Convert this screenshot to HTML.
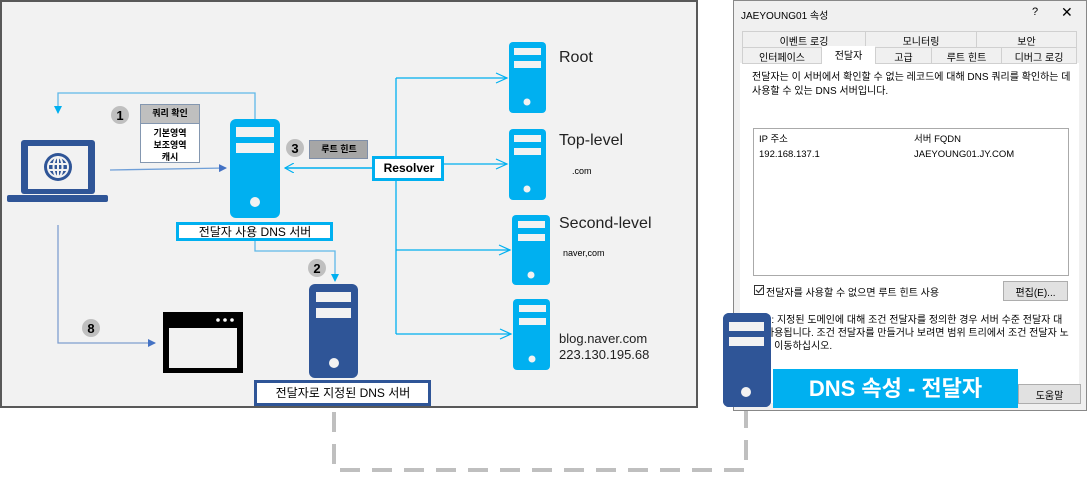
<!DOCTYPE html>
<html><head><meta charset="utf-8"><style>
body{margin:0;width:1087px;height:477px;background:#fff;position:relative;overflow:hidden;font-family:"Liberation Sans","Noto Sans CJK KR",sans-serif}
.a{position:absolute}
.t{position:absolute;white-space:nowrap}
</style></head><body>
<svg class="a" style="left:0;top:0" width="1087" height="477">
<defs>
<marker id="fb" markerWidth="8" markerHeight="8" refX="7" refY="4" orient="auto" markerUnits="userSpaceOnUse"><path d="M0,0 L8,4 L0,8z" fill="#4472c4"/></marker>
<marker id="lb" markerWidth="8" markerHeight="8" refX="7" refY="4" orient="auto" markerUnits="userSpaceOnUse"><path d="M0,0 L8,4 L0,8z" fill="#00b0f0"/></marker>
<marker id="ob" markerWidth="10" markerHeight="10" refX="9" refY="5" orient="auto" markerUnits="userSpaceOnUse"><path d="M0,0 L9,5 L0,10" fill="none" stroke="#00b0f0" stroke-width="1.2"/></marker>
</defs>
<!-- left panel -->
<rect x="1" y="1" width="696" height="406" fill="#f2f2f2" stroke="#595959" stroke-width="2"/>
<!-- dashed -->
<path d="M334,412 V470 H746 V410" fill="none" stroke="#bfbfbf" stroke-width="4" stroke-dasharray="20,12"/>
<!-- feedback line -->
<path d="M255,119 V93 H58 V113" fill="none" stroke="#5fb8e8" stroke-width="1.3" marker-end="url(#lb)"/>
<!-- laptop -> server -->
<line x1="110" y1="170" x2="226" y2="168" stroke="#6f9fd8" stroke-width="1.3" marker-end="url(#fb)"/>
<!-- laptop -> browser -->
<path d="M58,225 V343 H155" fill="none" stroke="#7f9fd0" stroke-width="1.3" marker-end="url(#fb)"/>
<!-- server1 -> server2 -->
<path d="M255,240 V251 H335 V281" fill="none" stroke="#5fb8e8" stroke-width="1.3" marker-end="url(#lb)"/>
<!-- resolver -> server1 -->
<line x1="372" y1="168" x2="285" y2="168" stroke="#00b0f0" stroke-width="1.5" marker-end="url(#ob)"/>
<!-- resolver tree -->
<path d="M396,78 V334 M396,78 H507 M443,164 H507 M396,250 H510 M396,334 H511" fill="none" stroke="#00b0f0" stroke-width="1.3"/>
<path d="M496,73 L507,78 L496,83 M496,159 L507,164 L496,169 M499,245 L510,250 L499,255 M500,329 L511,334 L500,339" fill="none" stroke="#00b0f0" stroke-width="1.2"/>
<!-- laptop -->
<rect x="21" y="140" width="74" height="54" rx="3" fill="#2f5597"/>
<rect x="28" y="146" width="60" height="43" fill="#f2f2f2"/>
<circle cx="58" cy="167" r="14" fill="#2f5597"/>
<g fill="none" stroke="#f2f2f2" stroke-width="2"><circle cx="58" cy="167" r="10"/><ellipse cx="58" cy="167" rx="4.5" ry="10"/><line x1="48" y1="164" x2="68" y2="164"/><line x1="48" y1="170" x2="68" y2="170"/><line x1="58" y1="157" x2="58" y2="177"/></g>
<rect x="7" y="195" width="101" height="7" rx="2" fill="#2f5597"/>
<!-- browser -->
<rect x="163" y="312" width="80" height="61" fill="#000"/>
<rect x="169" y="328" width="68" height="40" fill="#f2f2f2"/>
<circle cx="218" cy="320" r="1.8" fill="#fff"/><circle cx="225" cy="320" r="1.8" fill="#fff"/><circle cx="232" cy="320" r="1.8" fill="#fff"/>
<!-- server1 -->
<g>
<rect x="230" y="119" width="50" height="99" rx="6" fill="#00b0f0"/>
<rect x="236" y="127" width="38" height="10" fill="#f2f2f2"/><rect x="236" y="143" width="38" height="10" fill="#f2f2f2"/>
<circle cx="255" cy="202" r="5" fill="#f2f2f2"/>
</g>
<!-- server2 -->
<rect x="309" y="284" width="49" height="94" rx="6" fill="#2f5597"/>
<rect x="316" y="292" width="35" height="10" fill="#f2f2f2"/><rect x="316" y="308" width="35" height="10" fill="#f2f2f2"/>
<circle cx="334" cy="363" r="5" fill="#f2f2f2"/>
<!-- right servers -->
<g fill="#00b0f0">
<rect x="509" y="42" width="37" height="71" rx="4"/>
<rect x="509" y="129" width="37" height="71" rx="4"/>
<rect x="512" y="215" width="38" height="70" rx="4"/>
<rect x="513" y="299" width="37" height="71" rx="4"/>
</g>
<g fill="#f2f2f2">
<rect x="514" y="48" width="27" height="7"/><rect x="514" y="61" width="27" height="7"/><circle cx="527" cy="102" r="3.5"/>
<rect x="514" y="135" width="27" height="7"/><rect x="514" y="148" width="27" height="7"/><circle cx="527" cy="189" r="3.5"/>
<rect x="518" y="221" width="27" height="7"/><rect x="518" y="234" width="27" height="7"/><circle cx="531" cy="275" r="3.5"/>
<rect x="519" y="305" width="27" height="7"/><rect x="519" y="318" width="27" height="7"/><circle cx="532" cy="359" r="3.5"/>
</g>
<!-- badges -->
<g fill="#bfbfbf"><circle cx="120" cy="115" r="9"/><circle cx="295" cy="148" r="9"/><circle cx="317" cy="268" r="9"/><circle cx="91" cy="328" r="9"/></g>
<g font-family="Liberation Sans" font-weight="bold" font-size="13" fill="#000" text-anchor="middle"><text x="120" y="120">1</text><text x="295" y="153">3</text><text x="317" y="273">2</text><text x="91" y="333">8</text></g>
<!-- cache box -->
<rect x="140.5" y="104.5" width="59" height="58" fill="#fff" stroke="#8497b0"/>
<rect x="140.5" y="104.5" width="59" height="19" fill="#bfbfbf" stroke="#8497b0"/>
<!-- root hint box -->
<rect x="309.5" y="140.5" width="58" height="18" fill="#a6a6a6" stroke="#7f8fa9"/>
<!-- label boxes -->
<rect x="177.5" y="223.5" width="154" height="16" fill="#fff" stroke="#00b0f0" stroke-width="3"/>
<rect x="373.5" y="157.5" width="69" height="22" fill="#fff" stroke="#00b0f0" stroke-width="3"/>
<rect x="255.5" y="381.5" width="174" height="23" fill="#fff" stroke="#2f5597" stroke-width="3"/>
<!-- dialog -->
<rect x="733.5" y="0.5" width="353" height="410" fill="#f0f0f0" stroke="#888"/>
<rect x="740" y="63" width="339" height="340" fill="#fff"/>
<g fill="#f0f0f0" stroke="#d0d0d0"><rect x="742.5" y="31.5" width="123" height="16"/><rect x="865.5" y="31.5" width="111" height="16"/><rect x="976.5" y="31.5" width="100" height="16"/>
<rect x="742.5" y="47.5" width="79" height="16"/><rect x="875.5" y="47.5" width="56" height="16"/><rect x="931.5" y="47.5" width="70" height="16"/><rect x="1001.5" y="47.5" width="75" height="16"/></g>
<rect x="822" y="46" width="53" height="18" fill="#fff"/>
<rect x="753.5" y="128.5" width="315" height="147" fill="#fff" stroke="#aaa"/>
<rect x="1003.5" y="281.5" width="64" height="19" fill="#e1e1e1" stroke="#adadad"/>
<rect x="1018.5" y="384.5" width="62" height="19" fill="#e1e1e1" stroke="#adadad"/>
<rect x="754.5" y="285.5" width="9" height="9" fill="#fff" stroke="#333"/>
<path d="M756,290 l2.5,2.5 l4,-5" fill="none" stroke="#333" stroke-width="1.2"/>
<!-- overlay server + banner -->
<rect x="773" y="369" width="245" height="39" fill="#00b0f0"/>
<rect x="723" y="313" width="48" height="94" rx="6" fill="#2f5597"/>
<rect x="729" y="322" width="35" height="9" fill="#f2f2f2"/><rect x="729" y="337" width="35" height="9" fill="#f2f2f2"/>
<circle cx="746" cy="392" r="5" fill="#f2f2f2"/>
</svg>

<div class="t" style="left:140px;top:106px;width:60px;text-align:center;font-size:9px;font-weight:bold">쿼리 확인</div>
<div class="t" style="left:140px;top:127px;width:60px;text-align:center;font-size:9px;font-weight:bold;line-height:12px">기본영역<br>보조영역<br>캐시</div>
<div class="t" style="left:309px;top:142px;width:60px;text-align:center;font-size:9px;font-weight:bold">루트 힌트</div>
<div class="t" style="left:373px;top:161px;width:72px;text-align:center;font-size:12px;font-weight:bold">Resolver</div>
<div class="t" style="left:177px;top:223px;width:156px;text-align:center;font-size:12px">전달자 사용 DNS 서버</div>
<div class="t" style="left:255px;top:384px;width:176px;text-align:center;font-size:12px">전달자로 지정된 DNS 서버</div>
<div class="t" style="left:559px;top:49px;font-size:16px;color:#222">Root</div>
<div class="t" style="left:559px;top:132px;font-size:16px;color:#222">Top-level</div>
<div class="t" style="left:572px;top:166px;font-size:9px">.com</div>
<div class="t" style="left:559px;top:215px;font-size:16px;color:#222">Second-level</div>
<div class="t" style="left:563px;top:248px;font-size:9px">naver,com</div>
<div class="t" style="left:559px;top:331px;font-size:13px;line-height:16px;color:#222">blog.naver.com<br>223.130.195.68</div>

<div class="t" style="left:741px;top:7px;font-size:10px">JAEYOUNG01 속성</div>
<div class="t" style="left:1032px;top:6px;font-size:11px">?</div>
<div class="t" style="left:1061px;top:4px;font-size:14px">✕</div>
<div class="t" style="left:742px;top:33px;width:124px;text-align:center;font-size:10px">이벤트 로깅</div>
<div class="t" style="left:865px;top:33px;width:112px;text-align:center;font-size:10px">모니터링</div>
<div class="t" style="left:976px;top:33px;width:101px;text-align:center;font-size:10px">보안</div>
<div class="t" style="left:742px;top:49px;width:80px;text-align:center;font-size:10px">인터페이스</div>
<div class="t" style="left:822px;top:47px;width:53px;text-align:center;font-size:10px">전달자</div>
<div class="t" style="left:875px;top:49px;width:57px;text-align:center;font-size:10px">고급</div>
<div class="t" style="left:931px;top:49px;width:71px;text-align:center;font-size:10px">루트 힌트</div>
<div class="t" style="left:1001px;top:49px;width:76px;text-align:center;font-size:10px">디버그 로깅</div>
<div class="t" style="left:752px;top:71px;font-size:10px;line-height:14px">전달자는 이 서버에서 확인할 수 없는 레코드에 대해 DNS 쿼리를 확인하는 데<br>사용할 수 있는 DNS 서버입니다.</div>
<div class="t" style="left:759px;top:131px;font-size:9.5px">IP 주소</div>
<div class="t" style="left:914px;top:131px;font-size:9.5px">서버 FQDN</div>
<div class="t" style="left:759px;top:149px;font-size:9.5px">192.168.137.1</div>
<div class="t" style="left:914px;top:149px;font-size:9.5px">JAEYOUNG01.JY.COM</div>
<div class="t" style="left:766px;top:284px;font-size:10px">전달자를 사용할 수 없으면 루트 힌트 사용</div>
<div class="t" style="left:1003px;top:284px;width:65px;text-align:center;font-size:10px">편집(E)...</div>
<div class="t" style="left:753px;top:314px;font-size:10px;line-height:13px">참고: 지정된 도메인에 대해 조건 전달자를 정의한 경우 서버 수준 전달자 대<br>신 사용됩니다. 조건 전달자를 만들거나 보려면 범위 트리에서 조건 전달자 노<br>드로 이동하십시오.</div>
<div class="t" style="left:1018px;top:387px;width:63px;text-align:center;font-size:10px">도움말</div>
<div class="a" style="left:723px;top:313px;width:48px;height:94px;background:#2f5597;border-radius:6px"></div>
<svg class="a" style="left:723px;top:313px" width="48" height="94"><rect x="6" y="9" width="35" height="9" fill="#f2f2f2"/><rect x="6" y="24" width="35" height="9" fill="#f2f2f2"/><circle cx="23" cy="79" r="5" fill="#f2f2f2"/></svg>
<div class="t" style="left:773px;top:371px;width:245px;text-align:center;font-size:22px;font-weight:bold;color:#fff">DNS 속성 - 전달자</div>
</body></html>
